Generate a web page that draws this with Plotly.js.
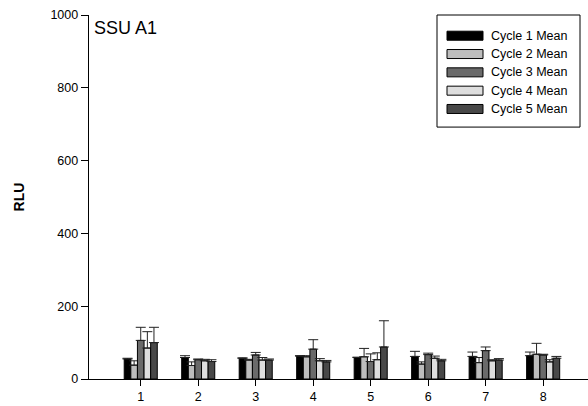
<!DOCTYPE html>
<html>
<head>
<meta charset="utf-8">
<script src="https://cdn.plot.ly/plotly-3.0.1.min.js"></script>
<style>html,body{margin:0;padding:0;background:#fff;}#chart{width:588px;height:406px;}</style>
</head>
<body>
<div id="chart"></div>
<script>
// ---- data ----
var categories = [1, 2, 3, 4, 5, 6, 7, 8];
var seriesNames = ["Cycle 1 Mean", "Cycle 2 Mean", "Cycle 3 Mean", "Cycle 4 Mean", "Cycle 5 Mean"];
var cycle1 = [55, 59, 57, 63, 59, 62, 62, 64];
var cycle1Err = [2, 5, 1, 1, 1, 14, 12, 10];
var cycle2 = [38, 37, 52, 61, 61, 41, 45, 68];
var cycle2Err = [12, 10, 2, 3, 23, 6, 14, 30];
var cycle3 = [106, 53, 66, 82, 48, 67, 78, 66];
var cycle3Err = [36, 2, 7, 26, 21, 4, 10, 2];
var cycle4 = [85, 50, 52, 50, 53, 57, 50, 47];
var cycle4Err = [45, 4, 7, 6, 19, 6, 3, 6];
var cycle5 = [100, 48, 52, 47, 88, 50, 52, 57];
var cycle5Err = [42, 5, 3, 4, 72, 4, 4, 5];
var yTicks = [0, 200, 400, 600, 800, 1000];
var panelLabel = "SSU A1";
var yTitle = "RLU";

var values = [cycle1, cycle2, cycle3, cycle4, cycle5];
var errors = [cycle1Err, cycle2Err, cycle3Err, cycle4Err, cycle5Err];
var colors = ["#000000", "#bdbdbd", "#6a6a6a", "#dedede", "#484848"];

var W = 588, H = 406;
var M = {l: 89, r: 0, t: 15, b: 27.3};
var pw = W - M.l - M.r, ph = H - M.t - M.b;
function px2x(px) { return (px - M.l) / pw; }
function py2y(py) { return (H - M.b - py) / ph; }

var font = "Arial, 'Liberation Sans', Helvetica, sans-serif";

var traces = seriesNames.map(function (name, i) {
  return {
    type: "bar",
    name: name,
    x: categories,
    y: values[i],
    marker: {color: colors[i], line: {color: "#000", width: 1}},
    error_y: {type: "data", array: errors[i], arrayminus: errors[i].map(function(){return 0;}),
              symmetric: false, visible: true, color: "#222", thickness: 1, width: 5},
    showlegend: false,
    hoverinfo: "x+y"
  };
});

// custom legend (wide swatches like the reference)
var shapes = [{
  type: "rect", xref: "paper", yref: "paper",
  x0: px2x(437), x1: px2x(580), y0: py2y(127), y1: py2y(15),
  line: {color: "#000", width: 1}, fillcolor: "#fff", layer: "above"
}];
var annotations = [{
  text: panelLabel, xref: "paper", yref: "paper", x: px2x(92), y: py2y(28),
  xanchor: "left", yanchor: "middle", showarrow: false,
  font: {family: font, size: 18, color: "#000"}
}];
seriesNames.forEach(function (name, i) {
  var cy = 35.7 + i * 18.3;
  shapes.push({
    type: "rect", xref: "paper", yref: "paper",
    x0: px2x(447), x1: px2x(483), y0: py2y(cy + 4.5), y1: py2y(cy - 4.5),
    line: {color: "#000", width: 1}, fillcolor: colors[i], layer: "above"
  });
  annotations.push({
    text: name, xref: "paper", yref: "paper", x: px2x(489), y: py2y(cy),
    xanchor: "left", yanchor: "middle", showarrow: false,
    font: {family: font, size: 12.5, color: "#000"}
  });
});

var layout = {
  width: W, height: H,
  margin: M,
  paper_bgcolor: "#fff", plot_bgcolor: "#fff",
  barmode: "group", bargap: 0.425, bargroupgap: 0,
  font: {family: font, size: 12, color: "#000"},
  xaxis: {
    range: [0.1, 8.78], tickvals: categories, ticktext: categories.map(String),
    showgrid: false, zeroline: false, showline: true, linecolor: "#000", linewidth: 1.3,
    ticks: "outside", ticklen: 6, tickcolor: "#000", tickwidth: 1,
    tickfont: {family: font, size: 12.5, color: "#000"}, fixedrange: true
  },
  yaxis: {
    range: [0, 1000], tickvals: yTicks,
    showgrid: false, zeroline: false, showline: true, linecolor: "#000", linewidth: 1.3,
    ticks: "outside", ticklen: 7, tickcolor: "#000", tickwidth: 1,
    tickfont: {family: font, size: 12.5, color: "#000"},
    title: {text: "<b>" + yTitle + "</b>", font: {family: font, size: 14, color: "#000"}, standoff: 22},
    fixedrange: true
  },
  shapes: shapes,
  annotations: annotations
};

Plotly.newPlot("chart", traces, layout, {displayModeBar: false, staticPlot: true});
</script>
</body>
</html>
